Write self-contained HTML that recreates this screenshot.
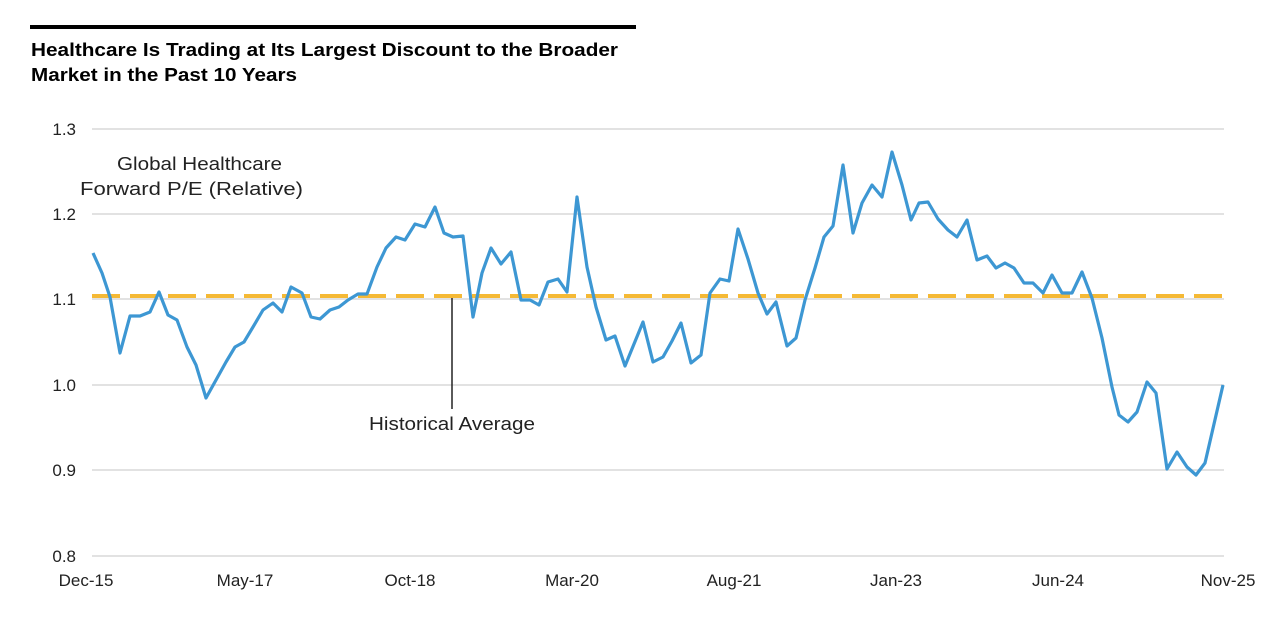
<!DOCTYPE html>
<html><head><meta charset="utf-8"><style>
body{margin:0;background:#fff;}
svg{display:block;font-family:"Liberation Sans",Arial,sans-serif;}
</style></head><body>
<svg width="1280" height="629" viewBox="0 0 1280 629">
<rect x="30" y="25" width="606" height="4" fill="#000"/>
<text x="31" y="56" font-size="18" font-weight="bold" fill="#000" textLength="587" lengthAdjust="spacingAndGlyphs">Healthcare Is Trading at Its Largest Discount to the Broader</text>
<text x="31" y="81" font-size="18" font-weight="bold" fill="#000" textLength="266" lengthAdjust="spacingAndGlyphs">Market in the Past 10 Years</text>
<g stroke="#d9d9d9" stroke-width="1.5">
<line x1="92" y1="129" x2="1224" y2="129"/>
<line x1="92" y1="214" x2="1224" y2="214"/>
<line x1="92" y1="299" x2="1224" y2="299"/>
<line x1="92" y1="385" x2="1224" y2="385"/>
<line x1="92" y1="470" x2="1224" y2="470"/>
<line x1="92" y1="556" x2="1224" y2="556"/>
</g>
<g font-size="17" fill="#222" text-anchor="end">
<text x="76" y="135">1.3</text><text x="76" y="220">1.2</text><text x="76" y="305">1.1</text>
<text x="76" y="391">1.0</text><text x="76" y="476">0.9</text><text x="76" y="562">0.8</text>
</g>
<g font-size="17" fill="#222" text-anchor="middle">
<text x="86" y="586">Dec-15</text><text x="245" y="586">May-17</text><text x="410" y="586">Oct-18</text>
<text x="572" y="586">Mar-20</text><text x="734" y="586">Aug-21</text><text x="896" y="586">Jan-23</text>
<text x="1058" y="586">Jun-24</text><text x="1228" y="586">Nov-25</text>
</g>
<text x="117" y="170" font-size="18" fill="#222" textLength="165" lengthAdjust="spacingAndGlyphs">Global Healthcare</text>
<text x="80" y="195" font-size="18" fill="#222" textLength="223" lengthAdjust="spacingAndGlyphs">Forward P/E (Relative)</text>
<line x1="452" y1="298" x2="452" y2="409" stroke="#222" stroke-width="1.5"/>
<text x="369" y="430" font-size="18" fill="#222" textLength="166" lengthAdjust="spacingAndGlyphs">Historical Average</text>
<line x1="92" y1="296" x2="1224" y2="296" stroke="#f5b935" stroke-width="4" stroke-dasharray="28,10"/>
<polyline fill="none" stroke="#3d97d3" stroke-width="3.2" stroke-linejoin="round" points="93,253 102,273 110,297 120,353 130,316 140,316 150,312 159,292 168,315 177,320 187,347 196,365 206,398 216,380 226,362 235,347 244,342 253,327 263,310 273,303 282,312 291,287 302,293 311,317 320,319 330,310 339,307 348,300 358,294 367,294 377,267 386,248 396,237 405,240 415,224 425,227 435,207 444,233 453,237 463,236 473,317 482,273 491,248 501,264 511,252 521,300 530,300 539,305 548,282 558,279 567,292 577,197 587,267 596,307 606,340 615,336 625,366 634,344 643,322 653,362 663,357 672,341 681,323 691,363 701,355 710,293 720,279 729,281 738,229 748,259 758,293 767,314 776,302 787,346 796,338 805,300 815,268 824,237 833,226 843,165 853,233 862,203 872,185 882,197 892,152 902,185 911,220 919,203 928,202 938,219 948,230 957,237 967,220 977,260 987,256 996,268 1005,263 1014,268 1024,283 1033,283 1043,293 1052,275 1062,293 1072,293 1082,272 1092,298 1102,338 1112,387 1119,415 1128,422 1137,412 1147,382 1156,393 1167,469 1177,452 1187,467 1196,475 1205,463 1223,385"/>
</svg>
</body></html>
